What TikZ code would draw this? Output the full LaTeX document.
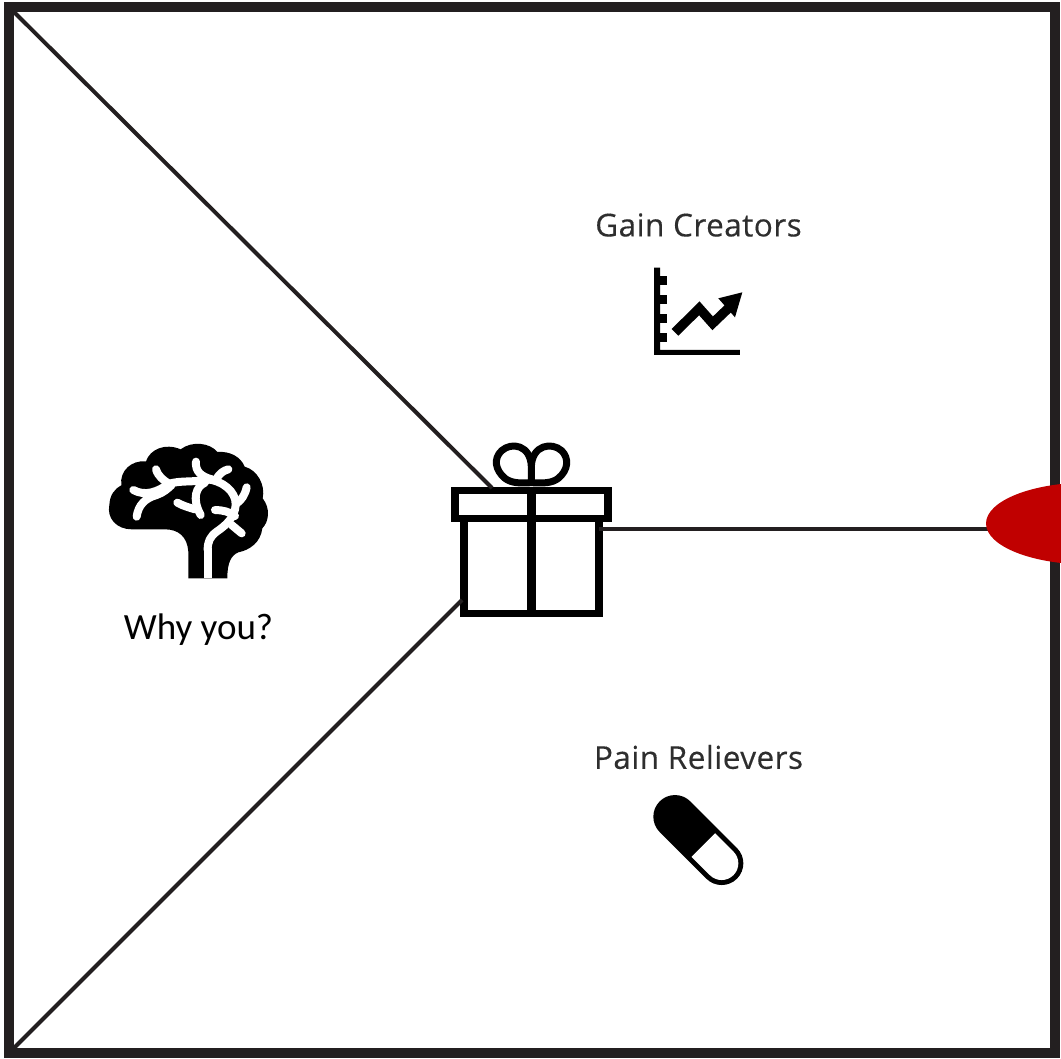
\documentclass[tikz,border=0pt]{standalone}
\usepackage{xcolor}
\usepackage{fontspec}
\setmainfont{Carlito}
\newfontfamily\labelfont[LetterSpace=1.5,FakeBold=0.3]{Open Sans}
\usetikzlibrary{arrows.meta,positioning,shapes.geometric,calc}
\definecolor{linegray}{HTML}{231F20}
\definecolor{tipred}{HTML}{C00000}

\begin{document}
\begin{tikzpicture}[
    x=1pt, y=-1pt,
    sector/.style={draw=linegray, line width=4pt},
    frame/.style={draw=linegray, line width=10.5pt, minimum width=1046pt, minimum height=1046pt, inner sep=0pt, outer sep=0pt},
    giftbox/.style={draw=black, line width=7.2pt, fill=white, inner sep=0pt, outer sep=0pt},
    ribbon/.style={draw=black, line width=9pt},
    caption/.style={font=\labelfont\fontsize{31.5}{38}\selectfont, text=black!82, inner sep=0pt},
    why/.style={font=\fontsize{37}{44}\selectfont, text=black, inner sep=0pt},
    vein/.style={draw=white, line width=8pt, line cap=round, line join=round}
]
\useasboundingbox (0,0) rectangle (1061,1059);

\node[frame] (canvas) at (532,530) {};

\node[giftbox, minimum width=153pt, minimum height=28pt] (lid) at (531.5,504.5) {};
\node[giftbox, minimum width=135pt, minimum height=95pt, below=0pt of lid] (gift) {};
\node[giftbox, minimum width=153pt, minimum height=28pt] at (lid) {};
\draw[ribbon] (lid.north) -- (gift.south);

\coordinate (lidhit) at (492,488);
\coordinate (gifthit) at (462,600);
\coordinate (hub) at (990,528.5);

\draw[sector] (canvas.north west) -- (lidhit);
\draw[sector] (canvas.south west) -- (gifthit);
\draw[sector] (hub) -- (hub -| gift.east);

\begin{scope}
  \clip (0,0) rectangle (1061,1059);
  \node[ellipse, fill=tipred, minimum width=206pt, minimum height=82pt, inner sep=0pt, outer sep=0pt, anchor=west] (tip) at (986,523.5) {};
\end{scope}

\node[caption] (gain) at (698.5,225) {Gain Creators};
\node[caption] (pain) at (698.5,757) {Pain Relievers};
\node[why] (whyyou) at (198.5,630) {Why you?};

% bow
\begin{scope}[shift={(440,430)}, x=.3333pt, y=-.3333pt]
  \draw[black, line width=7pt, line join=round]
    (274,158) .. controls (240,160) and (215,160) .. (195,145)
    .. controls (165,120) and (160,85) .. (185,62)
    .. controls (215,35) and (272,45) .. (274,110) -- (274,158)
    .. controls (310,160) and (335,160) .. (355,145)
    .. controls (385,120) and (388,85) .. (365,62)
    .. controls (335,35) and (276,45) .. (274,110);
\end{scope}

% brain
\begin{scope}[shift={(90,430)}, x=.3333pt, y=-.3333pt]
  \fill[black] (295,445) -- (295,365)
    .. controls (292,320) and (265,298) .. (225,298)
    -- (125,298)
    .. controls (80,298) and (50,265) .. (58,225)
    .. controls (60,195) and (72,178) .. (94,166)
    .. controls (88,122) and (125,90) .. (168,94)
    .. controls (180,58) and (225,38) .. (272,58)
    .. controls (305,32) and (360,38) .. (382,66)
    .. controls (420,63) and (452,80) .. (464,110)
    .. controls (502,120) and (527,165) .. (518,205)
    .. controls (542,235) and (537,275) .. (517,295)
    .. controls (512,337) and (480,360) .. (445,367)
    .. controls (422,377) and (412,400) .. (412,445)
    -- (365,445) -- (342,445) -- cycle;
  \draw[vein] (130,180) .. controls (165,200) and (205,185) .. (235,162)
    .. controls (270,150) and (320,158) .. (350,148)
    .. controls (395,150) and (440,185) .. (437,225)
    .. controls (435,260) and (410,285) .. (380,305)
    .. controls (360,320) and (353,335) .. (353,360);
  \draw[vein, line cap=butt] (353,355) -- (353,445);
  \draw[vein] (198,118) .. controls (205,140) and (220,150) .. (235,160);
  \draw[vein] (140,260) .. controls (145,225) and (165,205) .. (200,195)
    .. controls (220,188) and (235,175) .. (245,165);
  \draw[vein] (318,95) .. controls (315,125) and (335,140) .. (365,148);
  \draw[vein] (415,118) .. controls (400,122) and (390,130) .. (380,145);
  \draw[vein] (345,158) .. controls (318,170) and (305,205) .. (332,255);
  \draw[vein] (262,218) .. controls (280,228) and (295,232) .. (315,238);
  \draw[vein] (375,240) .. controls (395,240) and (420,245) .. (435,258);
  \draw[vein] (470,172) .. controls (465,195) and (455,210) .. (438,222);
  \draw[vein] (425,285) -- (455,310);
\end{scope}

% chart
\begin{scope}[shift={(640,255)}, x=.3333pt, y=-.3333pt]
  \fill[black] (42,38) -- (60,38) -- (60,285) -- (300,285) -- (300,300) -- (42,300) -- cycle;
  \foreach \ytick in {62,120,178,233} {
    \fill[black] (55,\ytick) rectangle (80,\ytick+27);
  }
  \draw[black, line width=9.5pt, line join=miter] (105,232) -- (178,160) -- (218,205) -- (265,160);
  \fill[black] (235,130) -- (307,112) -- (285,187) -- cycle;
\end{scope}

% pill
\begin{scope}[shift={(675,816.7)}, rotate=-45, x=.3333pt, y=.3333pt]
  \fill[black] (0,65) -- (198,65) arc (90:-90:65) -- (0,-65) arc (-90:-270:65) -- cycle;
  \fill[white] (120,50) -- (198,50) arc (90:-90:50) -- (120,-50) -- cycle;
\end{scope}
\end{tikzpicture}
\end{document}
